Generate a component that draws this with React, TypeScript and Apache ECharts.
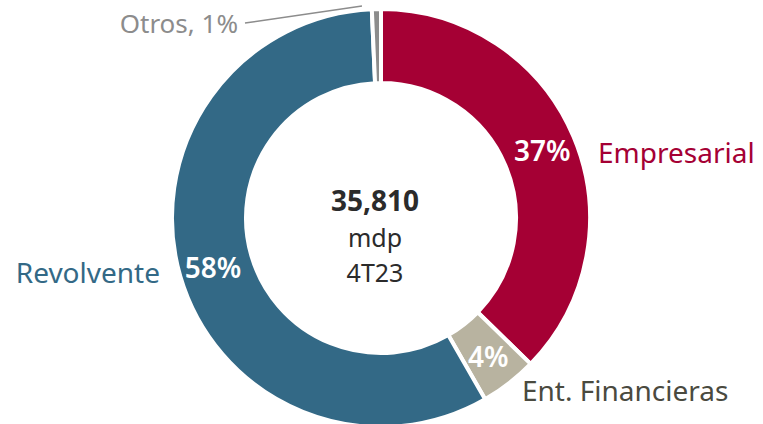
import React, { useEffect, useRef } from "react";
import * as echarts from "echarts";

const categories = ["Empresarial", "Ent. Financieras", "Revolvente", "Otros"];
const values = [37.3, 4.4, 57.6, 0.7];
const colors = ["#A50034", "#B8B3A0", "#336986", "#8C8C8C"];
const labelColors = ["#A50034", "#4A4A3F", "#336986", "#8C8C8C"];
const centerTotal = "35,810";
const centerUnit = "mdp";
const centerPeriod = "4T23";

const FONT = "'Noto Sans', Lato, sans-serif";

export default function App() {
  const ref = useRef<HTMLDivElement>(null);
  useEffect(() => {
    if (!ref.current) return;
    const chart = echarts.init(ref.current, undefined, { renderer: "svg" });
    const pct = (i: number) => `${Math.round(values[i])}%`;
    const outerLabel = (i: number, x: number, y: number, align: string, size: number, text?: string) => ({
      type: "text",
      x,
      y,
      style: {
        text: text ?? categories[i],
        fill: labelColors[i],
        font: `400 ${size}px ${FONT}`,
        lineHeight: size,
        textAlign: align,
        textVerticalAlign: "middle",
      },
    });
    const centerText = (text: string, y: number, size: number, weight: number) => ({
      type: "text",
      x: 375,
      y,
      style: {
        text,
        fill: "#2B2B2B",
        font: `${weight} ${size}px ${FONT}`,
        lineHeight: size,
        textAlign: "center",
        textVerticalAlign: "middle",
      },
    });
    chart.setOption({
      animation: false,
      series: [
        {
          type: "pie",
          center: [381, 218],
          radius: [135, 209],
          startAngle: 90,
          clockwise: true,
          avoidLabelOverlap: false,
          itemStyle: { borderColor: "#fff", borderWidth: 4 },
          label: {
            show: true,
            position: "inside",
            color: "#fff",
            fontFamily: FONT,
            fontSize: 28,
            fontWeight: 600,
            formatter: (p: any) => pct(p.dataIndex),
          },
          labelLine: { show: false },
          data: categories.map((name, i) => ({
            name,
            value: values[i],
            itemStyle: { color: colors[i] },
            label: { show: i !== 3 },
          })),
        },
      ],
      graphic: [
        centerText(centerTotal, 200, 28, 700),
        centerText(centerUnit, 237, 25, 400),
        centerText(centerPeriod, 272, 25, 400),
        outerLabel(0, 598, 152, "left", 28),
        outerLabel(1, 522, 390, "left", 28),
        outerLabel(2, 160, 272, "right", 28),
        outerLabel(3, 238, 23, "right", 26, `${categories[3]}, ${pct(3)}`),
        {
          type: "line",
          shape: { x1: 245, y1: 23, x2: 362, y2: 6 },
          style: { stroke: "#8C8C8C", lineWidth: 1.5 },
        },
      ],
    });
    return () => chart.dispose();
  }, []);
  return (
    <div
      ref={ref}
      style={{ position: "fixed", left: 0, top: 0, width: 763, height: 424, background: "#fff" }}
    />
  );
}
